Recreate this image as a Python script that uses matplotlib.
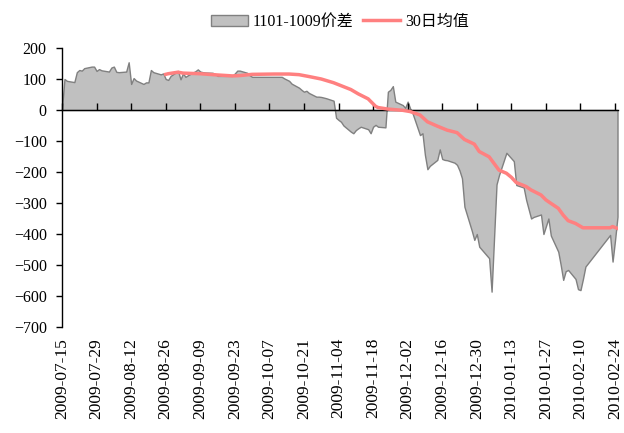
import matplotlib.pyplot as plt
import matplotlib.dates as mdates
import pandas as pd

# Spread 1101-1009 (daily, trading days)
spread_dates = [
    '2009-07-15', '2009-07-16', '2009-07-17', '2009-07-20', '2009-07-21', '2009-07-22', '2009-07-23', '2009-07-24',
    '2009-07-27', '2009-07-28', '2009-07-29', '2009-07-30', '2009-07-31', '2009-08-03', '2009-08-04', '2009-08-05',
    '2009-08-06', '2009-08-07', '2009-08-10', '2009-08-11', '2009-08-12', '2009-08-13', '2009-08-14', '2009-08-17',
    '2009-08-18', '2009-08-19', '2009-08-20', '2009-08-21', '2009-08-24', '2009-08-25', '2009-08-26', '2009-08-27',
    '2009-08-28', '2009-08-31', '2009-09-01', '2009-09-02', '2009-09-03', '2009-09-04', '2009-09-07', '2009-09-08',
    '2009-09-09', '2009-09-10', '2009-09-11', '2009-09-14', '2009-09-15', '2009-09-16', '2009-09-17', '2009-09-18',
    '2009-09-21', '2009-09-22', '2009-09-23', '2009-09-24', '2009-09-25', '2009-09-28', '2009-09-29', '2009-09-30',
    '2009-10-09', '2009-10-12', '2009-10-13', '2009-10-14', '2009-10-15', '2009-10-16', '2009-10-19', '2009-10-20',
    '2009-10-21', '2009-10-22', '2009-10-23', '2009-10-26', '2009-10-27', '2009-10-28', '2009-10-29', '2009-10-30',
    '2009-11-02', '2009-11-03', '2009-11-04', '2009-11-05', '2009-11-06', '2009-11-09', '2009-11-10', '2009-11-11',
    '2009-11-12', '2009-11-13', '2009-11-16', '2009-11-17', '2009-11-18', '2009-11-19', '2009-11-20', '2009-11-23',
    '2009-11-24', '2009-11-25', '2009-11-26', '2009-11-27', '2009-11-30', '2009-12-01', '2009-12-02', '2009-12-03',
    '2009-12-04', '2009-12-07', '2009-12-08', '2009-12-09', '2009-12-10', '2009-12-11', '2009-12-14', '2009-12-15',
    '2009-12-16', '2009-12-17', '2009-12-18', '2009-12-21', '2009-12-22', '2009-12-23', '2009-12-24', '2009-12-25',
    '2009-12-28', '2009-12-29', '2009-12-30', '2009-12-31', '2010-01-04', '2010-01-05', '2010-01-07', '2010-01-08',
    '2010-01-11', '2010-01-12', '2010-01-13', '2010-01-14', '2010-01-15', '2010-01-18', '2010-01-19', '2010-01-20',
    '2010-01-21', '2010-01-22', '2010-01-25', '2010-01-26', '2010-01-27', '2010-01-28', '2010-01-29', '2010-02-01',
    '2010-02-02', '2010-02-03', '2010-02-04', '2010-02-05', '2010-02-08', '2010-02-09', '2010-02-10', '2010-02-11',
    '2010-02-12', '2010-02-22', '2010-02-23', '2010-02-24', '2010-02-25',
]
spread_values = [
    5, 100, 94, 90, 122, 129, 127, 135,
    140, 140, 126, 132, 128, 124, 137, 140,
    123, 122, 124, 154, 84, 103, 95, 84,
    89, 89, 129, 122, 115, 118, 100, 97,
    110, 126, 99, 118, 107, 112, 125, 131,
    124, 122, 121, 120, 116, 110, 110, 110,
    110, 110, 118, 127, 127, 120, 112, 107,
    107, 107, 102, 98, 94, 85, 72, 65,
    59, 62, 55, 43, 43, 42, 40, 38,
    30, -25, -32, -38, -50, -70, -75, -65,
    -59, -54, -62, -75, -54, -48, -54, -56,
    59, 65, 77, 27, 16, 7, 27, 5,
    -11, -81, -75, -145, -191, -180, -161, -127,
    -158, -161, -162, -170, -177, -195, -220, -312,
    -390, -419, -400, -441, -478, -586, -240, -210,
    -138, -147, -156, -165, -242, -250, -290, -320,
    -350, -345, -337, -400, -375, -350, -405, -457,
    -500, -548, -520, -516, -545, -578, -581, -545,
    -505, -403, -489, -420, -344,
]

# 30-day moving average
ma_dates = [
    '2009-08-26', '2009-08-27', '2009-08-31', '2009-09-02', '2009-09-09', '2009-09-16', '2009-09-22', '2009-09-25',
    '2009-09-30', '2009-10-09', '2009-10-15', '2009-10-19', '2009-10-23', '2009-10-28', '2009-11-02', '2009-11-09',
    '2009-11-12', '2009-11-16', '2009-11-19', '2009-11-20', '2009-11-24', '2009-11-30', '2009-12-03', '2009-12-07',
    '2009-12-10', '2009-12-14', '2009-12-18', '2009-12-22', '2009-12-25', '2009-12-29', '2009-12-31', '2010-01-04',
    '2010-01-08', '2010-01-11', '2010-01-13', '2010-01-15', '2010-01-19', '2010-01-21', '2010-01-25', '2010-01-27',
    '2010-01-29', '2010-02-01', '2010-02-03', '2010-02-05', '2010-02-08', '2010-02-11', '2010-02-12', '2010-02-22',
    '2010-02-23', '2010-02-25',
]
ma_values = [
    115, 117, 122, 119, 117, 113, 110, 111,
    115, 116, 116, 114, 108, 100, 88, 66,
    52, 36, 12, 8, 3, -1, -5, -16,
    -38, -52, -65, -73, -95, -110, -134, -151,
    -194, -204, -217, -234, -247, -258, -274, -290,
    -301, -317, -339, -357, -366, -380, -380, -380,
    -376, -382,
]

tick_labels = [
    '2009-07-15', '2009-07-29', '2009-08-12', '2009-08-26', '2009-09-09', '2009-09-23',
    '2009-10-07', '2009-10-21', '2009-11-04', '2009-11-18', '2009-12-02', '2009-12-16',
    '2009-12-30', '2010-01-13', '2010-01-27', '2010-02-10', '2010-02-24',
]

plt.rcParams['font.family'] = ['Liberation Serif', 'Noto Sans CJK SC']

fig = plt.figure(figsize=(6.24, 4.33), dpi=100)
ax = fig.add_axes([62 / 624, 1 - 327 / 433, 555.5 / 624, 279 / 433])

sd = pd.to_datetime(spread_dates)
md = pd.to_datetime(ma_dates)
ticks = pd.to_datetime(tick_labels)

ax.fill_between(sd, spread_values, 0, facecolor='#C0C0C0', edgecolor='#808080',
                linewidth=1, label='1101-1009价差', zorder=1)
ax.plot(md, ma_values, color='#FF8080', linewidth=2.5, label='30日均值', zorder=4)

ax.set_xlim(pd.Timestamp('2009-07-15'), pd.Timestamp('2010-02-25'))
ax.set_ylim(-700, 200)
ax.set_yticks(range(-700, 201, 100))

for s in ['top', 'right', 'bottom']:
    ax.spines[s].set_visible(False)
ax.spines['left'].set_linewidth(1)

ax.set_xticks(ticks)
ax.set_xticklabels(tick_labels, rotation=90)
ax.tick_params(axis='x', length=0, pad=8, labelsize=12.5)
ax.tick_params(axis='y', direction='out', length=4, width=1, pad=7, labelsize=11.5)

# zero line with tick marks
sec = ax.secondary_xaxis(0, transform=ax.transData)
sec.set_alignment('bottom')
sec.set_xticks(mdates.date2num(ticks))
sec.tick_params(direction='in', length=5, width=1, labelbottom=False)
sec.spines['bottom'].set_linewidth(1)
sec.set_zorder(3)

fig.legend(loc='center', bbox_to_anchor=(340 / 624, 1 - 22 / 433), ncol=2, frameon=False,
           fontsize=11.5, handlelength=2.3, handletextpad=0.3, columnspacing=0.6)

fig.savefig('out.png', dpi=100)
